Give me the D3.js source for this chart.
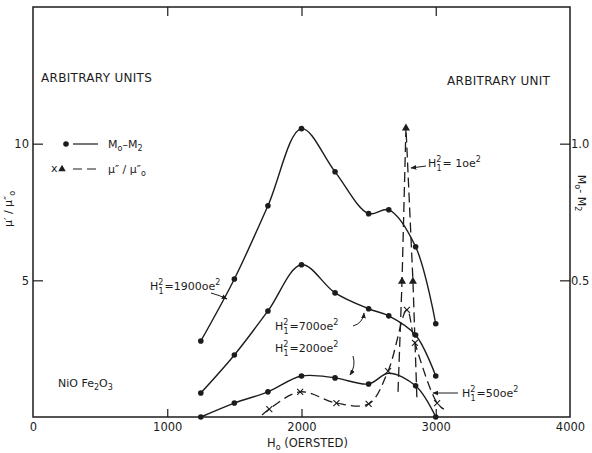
<!DOCTYPE html>
<html>
<head>
<meta charset="utf-8">
<script src="https://cdn.jsdelivr.net/npm/d3@7"></script>
<style>
body { margin: 0; background: #fff; }
text { font-family: "DejaVu Sans", sans-serif; fill: #1c1c1c; font-size: 11px; }
</style>
</head>
<body>
<svg id="chart" width="592" height="453"></svg>
<script>
// field values (oersted) where M0-M2 was measured
const fieldH = [1250, 1500, 1750, 2000, 2250, 2500, 2650, 2850, 3000]
// M0-M2, right axis (arbitrary unit)
const m1900 = [0.278, 0.505, 0.773, 1.055, 0.897, 0.744, 0.758, 0.623, 0.341]
const m700 = [0.088, 0.227, 0.388, 0.557, 0.454, 0.396, 0.370, 0.300, 0.150]
const m200 = [0.0, 0.051, 0.092, 0.150, 0.143, 0.121, 0.160, 0.114, 0.0]
const m200NoDot = [6] // bump point, no dot drawn in the original
// mu''/mu''0, left axis
const mu50H = [1706, 1760, 1990, 2260, 2500, 2645, 2785, 2845, 3010, 3060]
const mu50 = [0.07, 0.29, 0.92, 0.51, 0.48, 1.68, 3.92, 2.71, 0.51, 0.29]
const mu50Marks = [1, 2, 3, 4, 5, 6, 7, 8]
const mu1H = [2719, 2749, 2778, 2830, 2860]
const mu1 = [0.92, 5.0, 10.6, 5.0, 0.62]
const mu1Marks = [1, 2, 3]
// ticks
const xTicks = [0, 1000, 2000, 3000, 4000]
const xTopTicks = [1000, 2000, 3000]
const yLeftTicks = [5, 10]
const yRightTicks = [0.5, 1.0]

const ink = '#1c1c1c'
const svg = d3.select('#chart')
const x = d3.scaleLinear([0, 4000], [33, 570])
const yL = d3.scaleLinear([0, 15], [417, 7])
const yR = d3.scaleLinear([0, 1.5], [417, 7])

svg.append('defs').append('marker')
  .attr('id', 'arr').attr('viewBox', '0 0 10 10').attr('refX', 9).attr('refY', 5)
  .attr('markerWidth', 6).attr('markerHeight', 6).attr('orient', 'auto')
  .append('path').attr('d', 'M0,1 L10,5 L0,9 z').attr('fill', ink)

//frame
svg.append('rect').attr('x', 33).attr('y', 7).attr('width', 537).attr('height', 410)
  .attr('fill', 'none').attr('stroke', ink).attr('stroke-width', 1.5)

function styleAxis(g) {
  g.select('.domain').remove()
  g.selectAll('line').attr('stroke', ink).attr('stroke-width', 1.2)
  g.selectAll('text').attr('fill', ink).style('font-size', '11.5px').style('font-family', '"DejaVu Sans", sans-serif')
}
svg.append('g').attr('transform', 'translate(0,417)')
  .call(d3.axisBottom(x).tickValues(xTicks).tickSize(-8).tickPadding(6).tickFormat(d3.format('d')))
  .call(styleAxis)
  .call(g => g.selectAll('.tick').filter(d => d == 0 || d == 4000).select('line').remove())
svg.append('g').attr('transform', 'translate(0,7)')
  .call(d3.axisTop(x).tickValues(xTopTicks).tickSize(-9).tickFormat(''))
  .call(styleAxis)
svg.append('g').attr('transform', 'translate(33,0)')
  .call(d3.axisLeft(yL).tickValues(yLeftTicks).tickSize(-10).tickPadding(4).tickFormat(d3.format('d')))
  .call(styleAxis)
svg.append('g').attr('transform', 'translate(570,0)')
  .call(d3.axisRight(yR).tickValues(yRightTicks).tickSize(-10).tickPadding(1).tickFormat(d3.format('.1f')))
  .call(styleAxis)

//solid curves with dots
const solid = d3.line().x(d => x(d[0])).y(d => yR(d[1])).curve(d3.curveCatmullRom.alpha(0.5))
function drawSolid(vals, noDot) {
  const pts = fieldH.map((h, i) => [h, vals[i]])
  svg.append('path').attr('d', solid(pts)).attr('fill', 'none').attr('stroke', ink).attr('stroke-width', 1.4)
  svg.append('g').selectAll('circle').data(pts.filter((p, i) => !noDot.includes(i))).join('circle')
    .attr('cx', d => x(d[0])).attr('cy', d => yR(d[1])).attr('r', 2.8).attr('fill', ink)
}
drawSolid(m1900, [])
drawSolid(m700, [])
drawSolid(m200, m200NoDot)

//dashed mu'' curves
const dashedCurve = d3.line().x(d => x(d[0])).y(d => yL(d[1])).curve(d3.curveCatmullRom.alpha(0.5))
const pts50 = mu50H.map((h, i) => [h, mu50[i]])
svg.append('path').attr('d', dashedCurve(pts50)).attr('fill', 'none').attr('stroke', ink)
  .attr('stroke-width', 1.3).attr('stroke-dasharray', '9,5')
svg.append('g').selectAll('path').data(mu50Marks.map(i => pts50[i])).join('path')
  .attr('d', d => { const cx = x(d[0]), cy = yL(d[1]); return `M${cx-3},${cy-3}L${cx+3},${cy+3}M${cx-3},${cy+3}L${cx+3},${cy-3}` })
  .attr('stroke', ink).attr('stroke-width', 1.1)

const straight = d3.line().x(d => x(d[0])).y(d => yL(d[1]))
const pts1 = mu1H.map((h, i) => [h, mu1[i]])
svg.append('path').attr('d', straight(pts1)).attr('fill', 'none').attr('stroke', ink)
  .attr('stroke-width', 1.3).attr('stroke-dasharray', '10,5')
svg.append('g').selectAll('path').data(mu1Marks.map(i => pts1[i])).join('path')
  .attr('transform', d => `translate(${x(d[0])},${yL(d[1]) + 1})`)
  .attr('d', d3.symbol(d3.symbolTriangle).size(28)).attr('fill', ink)

//texts
function txt(px, py, parts, rot) {
  const t = svg.append('text').attr('x', px).attr('y', py)
  if (rot) t.attr('transform', `rotate(${rot},${px},${py})`).attr('text-anchor', 'middle')
  parts.forEach(p => {
    const s = t.append('tspan').text(p[0])
    if (p[1]) s.attr('dy', p[1])
    if (p[2]) s.attr('dx', p[2])
    if (p[3]) s.style('font-size', p[3] + 'px')
  })
  return t
}
// H1^2 = ... oe^2 labels
function h1(px, py, val) {
  txt(px, py, [['H'], ['2', -5, 0, 8], ['1', 9, -5, 8], ['=' + val + 'oe', -4, 1], ['2', -5, 0, 8]])
}
txt(41, 82, [['ARBITRARY UNITS']]).style('font-size', '12px').style('letter-spacing', '0.3px')
txt(447, 85, [['ARBITRARY UNIT']]).style('font-size', '12px').style('letter-spacing', '0.3px')
txt(58, 387, [['NiO Fe'], ['2', 3, 0, 8], ['O', -3], ['3', 3, 0, 8]])
txt(267, 447, [['H'], ['o', 3, 0, 8], [' (OERSTED)', -3]]).style('font-size', '11.5px')
txt(12, 209, [['μ′ / μ″'], ['o', 3, 0, 8]], -90)
txt(578, 193, [['M'], ['o', 3, 0, 8], ['- M', -3], ['2', 3, 0, 8]], 90)

//legend
svg.append('circle').attr('cx', 66).attr('cy', 144).attr('r', 2.8).attr('fill', ink)
svg.append('line').attr('x1', 73).attr('x2', 98).attr('y1', 144).attr('y2', 144).attr('stroke', ink).attr('stroke-width', 1.2)
txt(108, 148, [['M'], ['o', 3, 0, 8], ['–M', -3], ['2', 3, 0, 8]])
txt(51, 172, [['x']])
svg.append('path').attr('transform', 'translate(62,169)').attr('d', d3.symbol(d3.symbolTriangle).size(24)).attr('fill', ink)
svg.append('line').attr('x1', 73).attr('x2', 98).attr('y1', 169).attr('y2', 169).attr('stroke', ink)
  .attr('stroke-width', 1.2).attr('stroke-dasharray', '9,5')
txt(108, 173, [['μ″ / μ″'], ['o', 3, 0, 8]])

h1(150, 290, '1900')
h1(275, 330, '700')
h1(275, 352, '200')
h1(462, 397, '50')
h1(428, 167, ' 1')

//arrows
const arrows = [
  'M211,293 Q219,295 227,299',
  'M353,326 Q363,323 364,313',
  'M353,356 Q356,366 350,375',
  'M458,393 L433,393',
  'M426,166 L411,168'
]
svg.append('g').selectAll('path').data(arrows).join('path').attr('d', d => d)
  .attr('fill', 'none').attr('stroke', ink).attr('stroke-width', 1).attr('marker-end', 'url(#arr)')
</script>
</body>
</html>
